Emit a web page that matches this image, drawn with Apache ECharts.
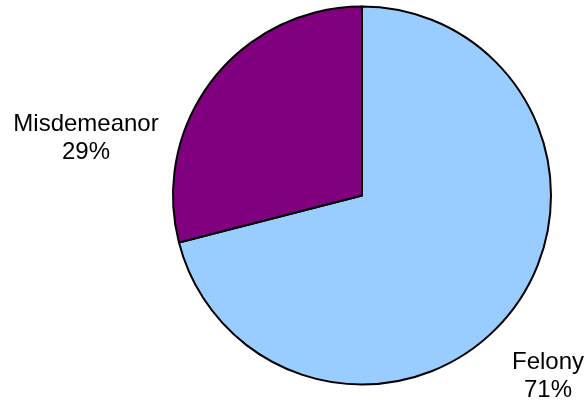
<!DOCTYPE html>
<html><head><meta charset="utf-8">
<script src="https://cdn.jsdelivr.net/npm/echarts@6/dist/echarts.min.js"></script>
<style>html,body{margin:0;padding:0;background:#fff}#c{width:587px;height:402px}</style>
</head><body><div id="c"></div>
<script>
const categories = ['Felony', 'Misdemeanor'];
const values = [71, 29];
const colors = ['#99CCFF', '#800080'];
const labelPos = [[548, 376], [86, 138]];

const chart = echarts.init(document.getElementById('c'), null, {renderer: 'canvas'});
chart.setOption({
  animation: false,
  backgroundColor: '#ffffff',
  series: [{
    type: 'pie',
    center: [362, 195.5],
    radius: 189,
    startAngle: 90,
    clockwise: true,
    percentPrecision: 0,
    data: categories.map((c, i) => ({name: c, value: values[i], itemStyle: {color: colors[i]}})),
    itemStyle: {borderColor: '#000', borderWidth: 2},
    label: {
      show: true,
      position: 'inside',
      formatter: '{b}\n{d}%',
      fontFamily: 'Liberation Sans, Arial, sans-serif',
      fontSize: 24,
      lineHeight: 28,
      color: '#000',
      align: 'center',
      overflow: 'none',
      width: 200
    },
    labelLine: {show: false},
    labelLayout: function (p) {
      const pos = labelPos[p.dataIndex];
      return {x: pos[0], y: pos[1], align: 'center', verticalAlign: 'middle'};
    },
    emphasis: {disabled: true}
  }]
});
</script></body></html>
